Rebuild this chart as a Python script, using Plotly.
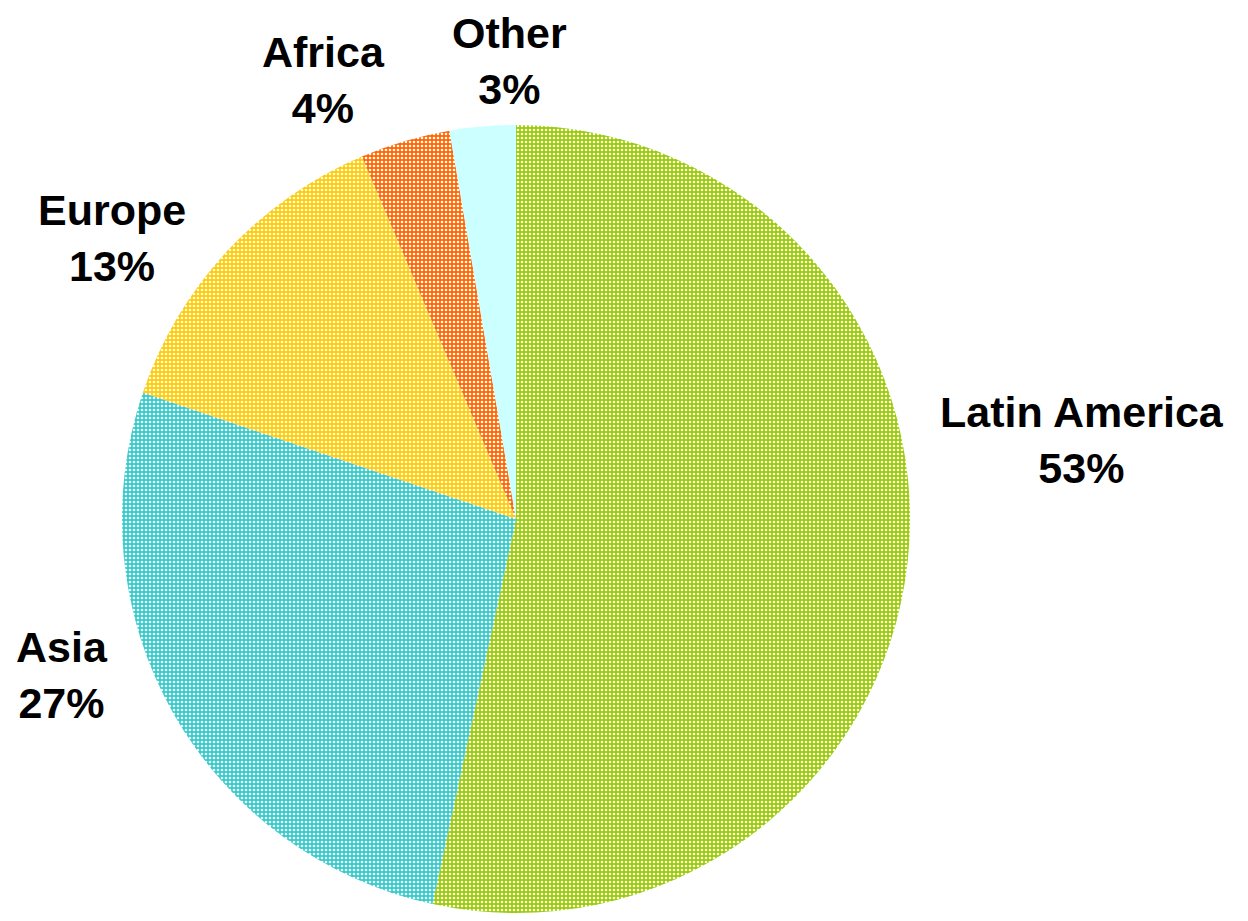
import plotly.graph_objects as go

regions = ["Latin America", "Asia", "Europe", "Africa", "Other"]
shares = [53.4, 26.8, 13.4, 3.7, 2.7]
pct_labels = ["53%", "27%", "13%", "4%", "3%"]
colors = ["#99CC00", "#33CCCC", "#FFCC00", "#FF6600", "#CCFFFF"]
patterns = [".", ".", ".", ".", ""]

W, H = 1248, 921
PAGE_OFF = 7  # page body offset
ML, MR, MT, MB = 121 - PAGE_OFF, 339 + PAGE_OFF, 124 - PAGE_OFF, 9 + PAGE_OFF

# label centres in screen pixels (layout only)
label_px = [(1081, 439), (61, 674), (111, 237), (322, 79), (508, 60)]

fig = go.Figure(go.Pie(
    labels=regions,
    values=shares,
    sort=False,
    direction="clockwise",
    rotation=0,
    marker=dict(
        colors=colors,
        line=dict(width=0),
        pattern=dict(shape=patterns, fgcolor="white", bgcolor=colors, size=4, solidity=0.35, fillmode="replace"),
    ),
    textinfo="none",
    showlegend=False,
    hoverinfo="label+percent",
))

pw, ph = W - ML - MR, H - MT - MB
for name, pct, (px, py) in zip(regions, pct_labels, label_px):
    fig.add_annotation(
        x=(px - PAGE_OFF - ML) / pw, y=1 - (py - PAGE_OFF - MT) / ph,
        xref="paper", yref="paper",
        text=f"<b>{name}</b><br><b>{pct}</b>",
        showarrow=False, xanchor="center", yanchor="middle",
        font=dict(family="Liberation Sans, Arial, sans-serif", size=43, color="black"),
    )

fig.update_layout(
    width=W, height=H,
    margin=dict(l=ML, r=MR, t=MT, b=MB),
    paper_bgcolor="white",
    plot_bgcolor="white",
)

fig.write_html("out.html")
